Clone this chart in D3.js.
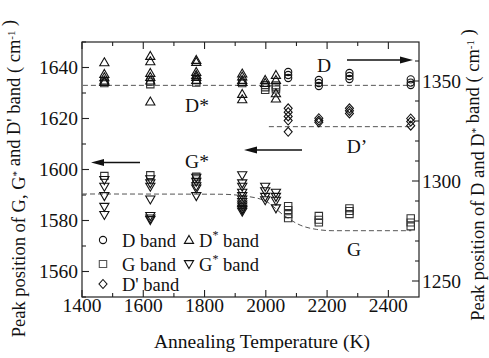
<!DOCTYPE html>
<html><head><meta charset="utf-8">
<script src="https://cdn.jsdelivr.net/npm/d3@7"></script>
<style>body{margin:0;background:#fff}</style>
</head><body><svg id="c" width="489" height="358"></svg>
<script>
// ---- tick values ----
const xTicksMajor = [1400,1600,1800,2000,2200,2400];
const xTicksMinor = [1500,1700,1900,2100,2300];
const yLeftMajor = [1560,1580,1600,1620,1640];
const yLeftMinor = [1550,1570,1590,1610,1630,1650];
const yRightMajor = [1250,1300,1350];
const yRightMinor = [1260,1270,1280,1290,1310,1320,1330,1340,1360];

// ---- D band (right axis) ----
const dBandT = [2073,2073,2073, 2173,2173,2173, 2273,2273,2273, 2473,2473,2473];
const dBandV = [1354.5,1353,1351.5, 1350.5,1349,1347.5, 1354,1352.5,1351, 1350.8,1349.2,1348];

// ---- D* band (right axis) ----
const dStarT = [1473,1473,1473,1473,1473, 1623,1623,1623,1623,1623,1623, 1773,1773,1773,1773,1773,1773, 1923,1923,1923,1923,1923,1923, 1998,1998, 2033,2033,2033,2033];
const dStarV = [1359.3,1353.5,1351.8,1350.2,1349.5, 1362.5,1359.8,1354,1352,1350.2,1339.7, 1360.5,1359.5,1354.5,1353,1352,1350.5, 1353.7,1352.2,1350.5,1349.5,1343.5,1340.8, 1350.5,1349, 1353,1350.5,1343.8,1341.2];

// ---- G band (left axis) ----
const gBandT = [1473,1473,1473, 1623,1623,1623, 1773,1773,1773,1773, 1923, 1998,1998,1998, 2033,2033,2033,
                2073,2073,2073,2073, 2173,2173,2173, 2273,2273,2273, 2473,2473,2473];
const gBandV = [1634.5,1633.8,1597.5, 1634.4,1633.4,1597.8, 1635,1634,1597.2,1596.2, 1633.8, 1633.1,1632.2,1631.2, 1633,1632.2,1631.4,
                1585.7,1584.1,1582.5,1580.9, 1581.8,1580.3,1579.2, 1584.8,1583.7,1582.5, 1580.9,1579.2,1577.7];

// ---- G* band (left axis) ----
const gStarT = [1473,1473,1473,1473,1473, 1623,1623,1623,1623,1623,1623,1623, 1773,1773,1773,1773,1773,
                1923,1923,1923,1923,1923,1923,1923,1923,1923,1923,1923,1923, 1998,1998,1998,1998, 2033,2033,2033,2033];
const gStarV = [1595.9,1593.3,1589.6,1585.4,1582.2, 1596.2,1594.6,1593.3,1588.3,1581.8,1580.8,1580.2, 1596.8,1595.2,1593.5,1592.6,1589.6,
                1597.8,1594.6,1593.3,1590.9,1589.6,1588.3,1587.3,1586.3,1585.5,1584.6,1584.1,1583.5, 1593.3,1591.5,1589.3,1588, 1590.9,1589.3,1587.8,1584.8];

// ---- D' band (left axis) ----
const dPrimeT = [2073,2073,2073,2073,2073, 2173,2173,2173, 2273,2273,2273, 2473,2473,2473];
const dPrimeV = [1624,1622.5,1620.8,1619.2,1614.8, 1620.1,1619.2,1618.5, 1624,1623,1622, 1620,1618.8,1617.2];

// ---- guide (dashed) lines, left-axis units ----
const dLineT = [1403,2480];  const dLineV = [1633,1633];
const dpLineT = [2010,2480]; const dpLineV = [1616.8,1616.8];
const gLineT = [1400,1850,1948,2003,2057,2112,2166,2219,2475];
const gLineV = [1590.4,1590.3,1589.3,1587.4,1582.2,1578.2,1576.5,1576,1576];

const FONT = "Liberation Serif";
const svg = d3.select("#c");
const X0=82, X1=419, Y0=42, Y1=297;
const x = d3.scaleLinear().domain([1400,2500]).range([X0,X1]);
const yL = d3.scaleLinear().domain([1550,1650]).range([Y1,Y0]);
const yR = d3.scaleLinear().domain([1242,1369.5]).range([Y1,Y0]);
const FS = 19.5;
function txt(xp,yp,fs){ return svg.append("text").attr("x",xp).attr("y",yp).attr("font-family",FONT).attr("font-size",fs||FS).attr("fill","#111"); }

// frame
svg.append("rect").attr("x",X0).attr("y",Y0).attr("width",X1-X0).attr("height",Y1-Y0)
  .attr("fill","none").attr("stroke","#222").attr("stroke-width",1.2);

// ticks (inward)
const tk = svg.append("g").attr("stroke","#222").attr("stroke-width",1.1);
function vt(v,len){ tk.append("line").attr("x1",x(v)).attr("x2",x(v)).attr("y1",Y1).attr("y2",Y1-len);
                    tk.append("line").attr("x1",x(v)).attr("x2",x(v)).attr("y1",Y0).attr("y2",Y0+len); }
xTicksMajor.forEach(v=>vt(v,7)); xTicksMinor.forEach(v=>vt(v,4));
yLeftMajor.forEach(v=>tk.append("line").attr("x1",X0).attr("x2",X0+7).attr("y1",yL(v)).attr("y2",yL(v)));
yLeftMinor.forEach(v=>tk.append("line").attr("x1",X0).attr("x2",X0+4).attr("y1",yL(v)).attr("y2",yL(v)));
yRightMajor.forEach(v=>tk.append("line").attr("x1",X1).attr("x2",X1-7).attr("y1",yR(v)).attr("y2",yR(v)));
yRightMinor.forEach(v=>tk.append("line").attr("x1",X1).attr("x2",X1-4).attr("y1",yR(v)).attr("y2",yR(v)));

// tick labels
xTicksMajor.forEach(v=>txt(x(v),312).attr("text-anchor","middle").text(v));
yLeftMajor.forEach(v=>txt(78,yL(v)+6.5).attr("text-anchor","end").text(v));
yRightMajor.forEach(v=>txt(422,yR(v)+6.5).text(v));

// axis titles
txt(262,348).attr("text-anchor","middle").text("Annealing Temperature (K)");
function title(xp,yp,len,parts){
  const t = svg.append("text").attr("transform",`translate(${xp},${yp}) rotate(-90)`).attr("text-anchor","middle")
    .attr("font-family",FONT).attr("font-size",18.5).attr("fill","#111");
  parts.forEach(p=>{
    if(p.sup){ t.append("tspan").attr("dy",-5).attr("font-size",11).text(p.s); t.append("tspan").attr("dy",5).text(""); }
    else t.append("tspan").text(p.s);
  });
  const w = t.node().getBBox().width;
  if (w > len) t.attr("transform",`translate(${xp},${yp}) rotate(-90) scale(${len/w},1)`);
}
title(25,178.5,337,[{s:"Peak position of G, G"},{s:"*",sup:1},{s:" and D' band ( cm"},{s:"-1",sup:1},{s:" )"}]);
title(484,175,324,[{s:"Peak position of D and D"},{s:"*",sup:1},{s:" band ( cm"},{s:"-1",sup:1},{s:" )"}]);

// dashed guide lines
const dash = svg.append("g").attr("fill","none").attr("stroke","#555").attr("stroke-width",1).attr("stroke-dasharray","5,3");
const lineL = d3.line().x(d=>x(d[0])).y(d=>yL(d[1]));
dash.append("path").attr("d",lineL(d3.zip(dLineT,dLineV)));
dash.append("path").attr("d",lineL(d3.zip(dpLineT,dpLineV)));
dash.append("path").attr("d",lineL.curve(d3.curveMonotoneX)(d3.zip(gLineT,gLineV)));

// markers
const shapes = {
  circle: "M3.6,0A3.6,3.6 0 1,1 -3.6,0A3.6,3.6 0 1,1 3.6,0Z",
  square: "M-3.7,-3.5H3.7V3.5H-3.7Z",
  diamond: "M0,-4.5L4,0L0,4.5L-4,0Z",
  up: "M0,-4.6L4.6,3.4H-4.6Z",
  down: "M0,4.6L4.6,-3.4H-4.6Z"
};
function plot(T,V,ys,shape,col){
  svg.append("g").selectAll("path").data(d3.zip(T,V)).join("path")
    .attr("d",shapes[shape]).attr("transform",d=>`translate(${x(d[0])},${ys(d[1])})`)
    .attr("fill","none").attr("stroke",col||"#111").attr("stroke-width",1.1);
}
plot(gBandT,gBandV,yL,"square","#333");
plot(gStarT,gStarV,yL,"down");
plot(dPrimeT,dPrimeV,yL,"diamond");
plot(dStarT,dStarV,yR,"up");
plot(dBandT,dBandV,yR,"circle");

// legend
const leg = [
  {s:"circle",x:103,y:240,t:"D band"},{s:"square",x:103,y:264,t:"G band"},{s:"diamond",x:103,y:284,t:"D' band"},
  {s:"up",x:189,y:240,t:"D",sup:" band"},{s:"down",x:189,y:264,t:"G",sup:" band"}
];
leg.forEach(l=>{
  svg.append("path").attr("d",shapes[l.s]).attr("transform",`translate(${l.x},${l.y})`)
    .attr("fill","none").attr("stroke",l.s==="square"?"#555":"#111").attr("stroke-width",1.1);
  const t = txt(l.x+(l.s==="up"||l.s==="down"?10:19),l.y+6.5,18.5);
  t.append("tspan").text(l.t);
  if(l.sup){ t.append("tspan").attr("dy",-8).attr("font-size",12).text("*"); t.append("tspan").attr("dy",8).text(l.sup); }
});

// annotations
function ann(xp,yp,s){ txt(xp,yp).attr("text-anchor","middle").text(s); }
ann(324,72,"D"); ann(197,112,"D*"); ann(357,153,"D\u2019"); ann(197,168,"G*"); ann(354,256,"G");
function arrow(xa,xb,yy){
  const dir = xb>xa?1:-1;
  svg.append("line").attr("x1",xa).attr("x2",xb-dir*10).attr("y1",yy).attr("y2",yy).attr("stroke","#111").attr("stroke-width",1.3);
  svg.append("path").attr("d",`M${xb},${yy}L${xb-dir*13},${yy-3.6}L${xb-dir*13},${yy+3.6}Z`).attr("fill","#111");
}
arrow(347,413,60); arrow(140,91,162.5); arrow(302,244,150);
</script></body></html>
